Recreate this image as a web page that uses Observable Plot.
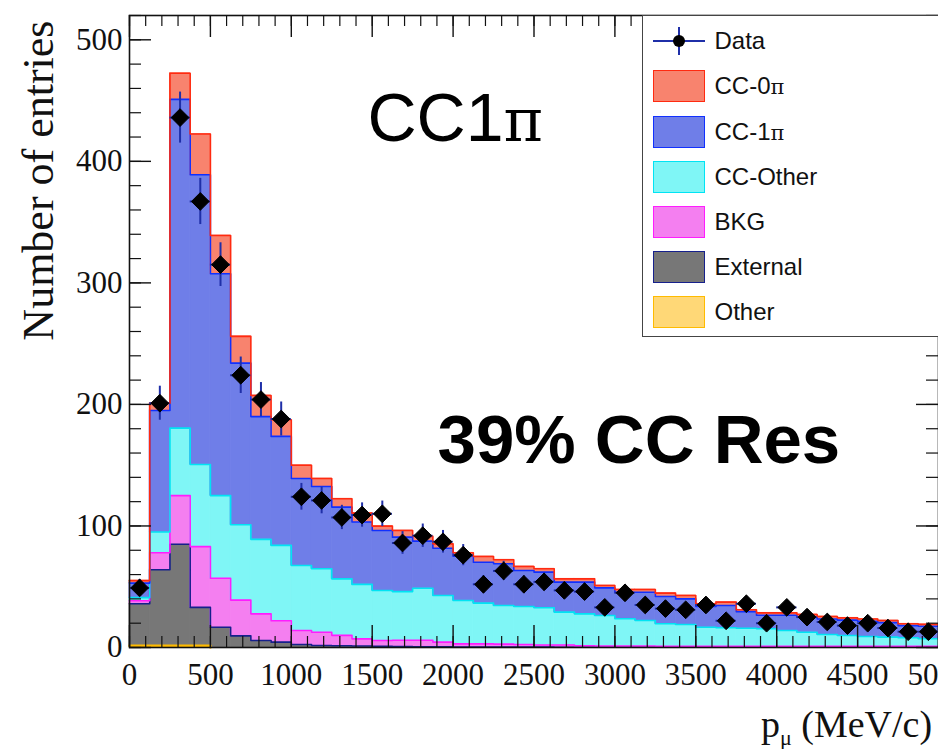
<!DOCTYPE html>
<html>
<head>
<meta charset="utf-8">
<script src="https://cdn.jsdelivr.net/npm/d3@7"></script>
<script src="https://cdn.jsdelivr.net/npm/@observablehq/plot@0.6"></script>
<style>
html, body { margin: 0; padding: 0; background: #fff; overflow: hidden; }
#wrap { position: relative; width: 938px; height: 749px; overflow: hidden; }
#legend { position: absolute; left: 642px; top: 15px; width: 300px; height: 322px; box-sizing: border-box;
  border: 1.5px solid #444; background: #fff; font-family: "Liberation Sans", Arial, sans-serif; font-size: 24px; color: #111; }
#legend .row { position: absolute; left: 9.5px; height: 32px; display: flex; align-items: center; }
#legend .sw { width: 52px; height: 32px; box-sizing: border-box; border: 1.5px solid; }
#legend .lab { margin-left: 10px; white-space: nowrap; }
#legend .pi { font-family: "DejaVu Serif", "Liberation Serif", serif; font-size: 21px; }
#xlabel { position: absolute; left: 761px; top: 705px; font-family: "Liberation Serif", "Times New Roman", serif;
  font-size: 38px; line-height: 38px; white-space: nowrap; color: #111; }
#xlabel sub { font-size: 22px; vertical-align: -8px; line-height: 0; }
</style>
</head>
<body>
<div id="wrap"></div>
<script>
// ---------- data (bins of 125 MeV/c from 0 to 5000) ----------
const binWidth = 125;
const binLow = d3.range(0, 5000, binWidth);

// MC components per bin (stack order bottom -> top)
const other    = [1.5,1.5,1.5,1.5,0,0,0,0,0,0,0,0,0,0,0,0,0,0,0,0,0,0,0,0,0,0,0,0,0,0,0,0,0,0,0,0,0,0,0,0];
const external = [34.5,62.5,83.5,31.5,16.7,9.6,5.8,4.4,2.5,1.6,1.5,1.2,1.0,0.8,0.5,0.5,0.3,0.3,0.3,0.3,0.3,0.2,0.2,0.2,0.2,0.2,0.2,0.2,0.2,0.2,0.2,0.2,0.2,0.2,0.2,0.2,0.2,0.2,0.2,0.2];
const bkg      = [2.5,14,40,50,40.3,29.4,21.9,17.6,11.5,11,8.5,5.9,4.8,5.2,5.5,3.9,2.7,2.7,2.5,2.2,1.7,1.8,1.3,1.0,1.0,1.0,0.8,0.8,0.8,0.8,0.8,0.8,0.7,0.7,0.7,0.7,0.7,0.7,0.7,0.7];
const ccOther  = [2.5,17,55.5,67.6,68,62,61.3,62,53.5,52.2,46.5,44.8,41.1,40,42.8,38.4,35.7,33.5,31.8,31.2,30.7,27.1,26.2,25.1,22.4,21,18.5,17.9,15.7,15.2,14.8,14.4,13.1,11.7,9.8,9,8.1,7.6,7.1,6.3];
const cc1pi    = [12,100,270.5,238.4,182.5,133,101,89.7,71.5,67.7,59,51.3,49.4,44.8,38.7,38.9,36.4,33.7,34.3,29.7,29.3,24.7,26.1,22.8,21.9,23.3,22.5,21.1,17,18.4,13.7,11.1,12.5,12.4,12.8,12.6,12.5,12,10,10.3];
const cc0pi    = [2,6,21.5,33.5,31.5,22,17.4,13.7,11,6.5,6.9,7.4,3.6,5.5,3.9,3.6,2.8,4.7,3.3,3.3,2.8,2.7,2.7,1.9,2.2,2.2,2.7,2.8,2.3,2.7,1.5,2,2,2.2,2,1.9,2,1.7,1.5,1.5];

// Data points and their vertical errors
const dataCounts = [49,201,436,367,315,224,204,188,124,121,107,109,110,86,92,87,76,52,63,52,54,47,46,33,45,35,32,31,35,22,36,20,33,25,21,18,20,16,13,13];
const dataErrors = [7,14,21,19,18,15,14,14,11,11,10,10,10.5,9.3,9.6,9.3,8.7,7.2,7.9,7.2,7.3,6.9,6.8,5.7,6.7,5.9,5.7,5.6,5.9,4.7,6,4.5,5.7,5,4.6,4.2,4.5,4,3.6,3.6];

// Series metadata
const seriesNames  = ["Other", "External", "BKG", "CC-Other", "CC-1π", "CC-0π"];
const seriesValues = [other, external, bkg, ccOther, cc1pi, cc0pi];
const seriesFill   = ["#ffd877", "#777777", "#f47ff0", "#7ff6f6", "#6f7ee8", "#f8836e"];
const seriesStroke = ["#ffbb00", "#16208c", "#ff1cff", "#00e4f4", "#1030ff", "#ff2a10"];

// Tick labels
const xTickLabels = [0,500,1000,1500,2000,2500,3000,3500,4000,4500,5000];
const yTickLabels = [0,100,200,300,400,500];

// Annotations (positions in data units)
const annoText = ["CC1", "π", "39% CC Res"];
const annoX = [1471, 2311, 1904];
const annoY = [417, 417, 152];

// ---------- layout ----------
const W = 938, H = 749, mL = 129, mR = 0, mT = 15, mB = 102;
const innerW = W - mL - mR, innerH = H - mT - mB;
const sans = '"Liberation Sans", Arial, sans-serif';
const serif = '"Liberation Serif", "Times New Roman", serif';
const piFont = '"DejaVu Serif", "Liberation Serif", serif';

// ---------- build stacked rows ----------
const stackRows = [], outlinePts = [];
const cum = binLow.map(() => 0);
seriesNames.forEach((name, s) => {
  const rows = [], pts = [];
  binLow.forEach((lo, i) => {
    const v = seriesValues[s][i];
    const y1 = cum[i], y2 = cum[i] + v;
    cum[i] = y2;
    rows.push({series: name, x1: lo, x2: lo + binWidth, y1, y2});
    pts.push({x: lo, y: y2}, {x: lo + binWidth, y: y2});
  });
  stackRows.push(rows);
  outlinePts.push(pts);
});

const dataRows = binLow.map((lo, i) => ({
  x1: lo, x2: lo + binWidth, c: lo + binWidth / 2, v: dataCounts[i], e: dataErrors[i]
}));

const xMinor = d3.range(0, 5001, 100);
const yMinor = d3.range(0, 521, 20);
const errColor = "#1f2fa8";

const marks = [];
stackRows.forEach((rows, s) => {
  marks.push(Plot.rect(rows.filter(r => r.y2 > r.y1), {x1: "x1", x2: "x2", y1: "y1", y2: "y2",
    fill: seriesFill[s], stroke: seriesFill[s], strokeWidth: 0.8}));
});
outlinePts.forEach((pts, s) => {
  if (seriesNames[s] === "Other") return;
  marks.push(Plot.line(pts, {x: "x", y: "y", stroke: seriesStroke[s], strokeWidth: 1.6}));
});
// Other outline only where present
marks.push(Plot.line(outlinePts[0].filter(p => p.x <= 500), {x: "x", y: "y", stroke: seriesStroke[0], strokeWidth: 2.5}));

// inward ticks (ROOT style)
marks.push(
  Plot.ruleX(xMinor, {x: d => d, insetTop: innerH - 11, stroke: "#111", strokeWidth: 1.2}),
  Plot.ruleX(xTickLabels, {x: d => d, insetTop: innerH - 22, stroke: "#111", strokeWidth: 1.4}),
  Plot.ruleX(xMinor, {x: d => d, insetBottom: innerH - 11, stroke: "#111", strokeWidth: 1.2}),
  Plot.ruleX(xTickLabels, {x: d => d, insetBottom: innerH - 22, stroke: "#111", strokeWidth: 1.4}),
  Plot.ruleY(yMinor, {y: d => d, insetRight: innerW - 12, stroke: "#111", strokeWidth: 1.2}),
  Plot.ruleY(yTickLabels, {y: d => d, insetRight: innerW - 22, stroke: "#111", strokeWidth: 1.4}),
  Plot.ruleY(yMinor, {y: d => d, insetLeft: innerW - 12, stroke: "#111", strokeWidth: 1.2}),
  Plot.ruleY(yTickLabels, {y: d => d, insetLeft: innerW - 22, stroke: "#111", strokeWidth: 1.4})
);

// data with errors
marks.push(
  Plot.ruleY(dataRows, {y: "v", x1: "x1", x2: "x2", stroke: errColor, strokeWidth: 2}),
  Plot.ruleX(dataRows, {x: "c", y1: d => d.v - d.e, y2: d => d.v + d.e, stroke: errColor, strokeWidth: 2}),
  Plot.dot(dataRows, {x: "c", y: "v", symbol: "diamond2", r: 8, fill: "black", stroke: "black", strokeWidth: 1})
);

marks.push(
  Plot.frame({stroke: "#111", strokeWidth: 1.6}),
  Plot.axisX({ticks: xTickLabels, tickSize: 0, tickPadding: 15, fontSize: 31, tickFormat: d => String(d), label: null}),
  Plot.axisY({ticks: yTickLabels, tickSize: 0, tickPadding: 7, fontSize: 31, tickFormat: d => String(d), label: null}),
  Plot.text([0], {x: annoX[0], y: annoY[0], text: () => annoText[0], fontSize: 68, fontFamily: sans, textAnchor: "start", lineAnchor: "bottom", fill: "#000"}),
  Plot.text([1], {x: annoX[1], y: annoY[1], text: () => annoText[1], fontSize: 60, fontFamily: piFont, textAnchor: "start", lineAnchor: "bottom", fill: "#000"}),
  Plot.text([2], {x: annoX[2], y: annoY[2], text: () => annoText[2], fontSize: 69, fontWeight: "bold", fontFamily: sans, textAnchor: "start", lineAnchor: "bottom", fill: "#000"}),
  Plot.text(["Number of entries"], {frameAnchor: "top-left", text: d => d, rotate: -90, textAnchor: "end", lineAnchor: "middle", dx: 38 - mL, dy: 5, fontSize: 44, fontFamily: serif, fill: "#111"})
);

const chart = Plot.plot({
  width: W, height: H,
  marginLeft: mL, marginRight: mR, marginTop: mT, marginBottom: mB,
  x: {domain: [0, 5000]},
  y: {domain: [0, 520]},
  style: {fontFamily: serif, fontSize: "31px", color: "#111", background: "white", overflow: "visible"},
  marks
});
const wrap = document.getElementById("wrap");
wrap.appendChild(chart);

// ---------- legend ----------
const legend = document.createElement("div");
legend.id = "legend";
const legendLabels = ["Data", "CC-0π", "CC-1π", "CC-Other", "BKG", "External", "Other"];
legendLabels.forEach((lab, i) => {
  const row = document.createElement("div");
  row.className = "row";
  row.style.top = (25.2 + i * 45.2 - 16) + "px";
  let sw;
  if (i === 0) {
    sw = document.createElementNS("http://www.w3.org/2000/svg", "svg");
    sw.setAttribute("width", 52); sw.setAttribute("height", 32);
    sw.innerHTML = `<line x1="0" x2="52" y1="16" y2="16" stroke="${errColor}" stroke-width="2"/>
      <line x1="26" x2="26" y1="2" y2="30" stroke="${errColor}" stroke-width="2"/>
      <circle cx="26" cy="16" r="6" fill="black"/>`;
  } else {
    const s = seriesNames.indexOf(lab);
    sw = document.createElement("div");
    sw.className = "sw";
    sw.style.background = seriesFill[s];
    sw.style.borderColor = seriesStroke[s];
  }
  const t = document.createElement("span");
  t.className = "lab";
  if (lab.endsWith("π")) {
    t.textContent = lab.slice(0, -1);
    const p = document.createElement("span");
    p.className = "pi";
    p.textContent = "π";
    t.appendChild(p);
  } else {
    t.textContent = lab;
  }
  row.appendChild(sw);
  row.appendChild(t);
  legend.appendChild(row);
});
wrap.appendChild(legend);

// ---------- x axis title ----------
const xl = document.createElement("div");
xl.id = "xlabel";
xl.innerHTML = "p<sub>μ</sub> (MeV/c)";
wrap.appendChild(xl);
</script>
</body>
</html>
